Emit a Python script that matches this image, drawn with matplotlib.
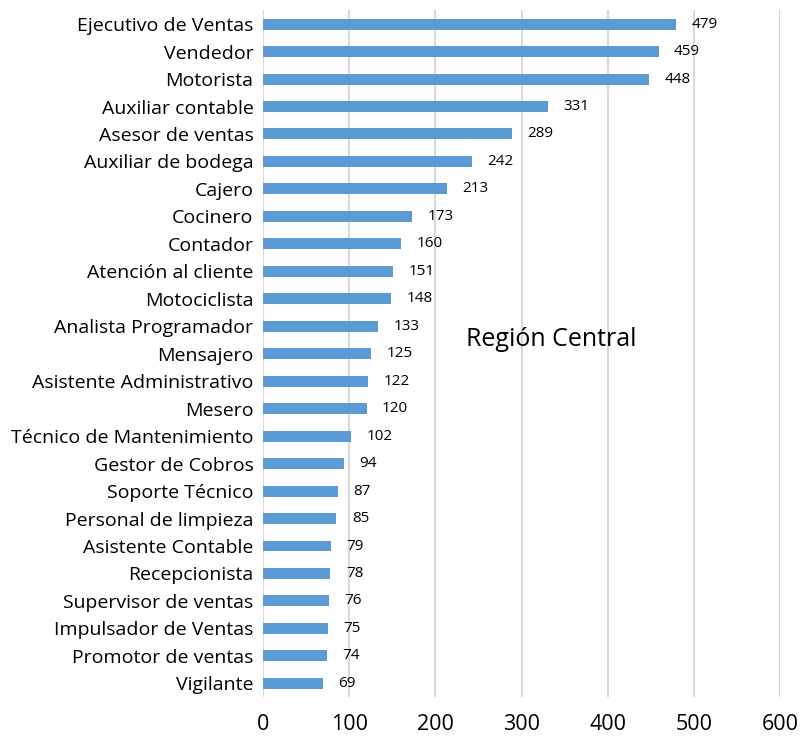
import matplotlib
matplotlib.use("Agg")
import matplotlib.pyplot as plt

categories = ["Ejecutivo de Ventas", "Vendedor", "Motorista", "Auxiliar contable",
              "Asesor de ventas", "Auxiliar de bodega", "Cajero", "Cocinero", "Contador",
              "Atención al cliente", "Motociclista", "Analista Programador", "Mensajero",
              "Asistente Administrativo", "Mesero", "Técnico de Mantenimiento",
              "Gestor de Cobros", "Soporte Técnico", "Personal de limpieza",
              "Asistente Contable", "Recepcionista", "Supervisor de ventas",
              "Impulsador de Ventas", "Promotor de ventas", "Vigilante"]
values = [479, 459, 448, 331, 289, 242, 213, 173, 160, 151, 148, 133, 125, 122, 120,
          102, 94, 87, 85, 79, 78, 76, 75, 74, 69]
xticks = [0, 100, 200, 300, 400, 500, 600]
title = "Región Central"

plt.rcParams['font.family'] = ['Open Sans', 'DejaVu Sans']
fig = plt.figure(figsize=(8, 7.4), dpi=100)
ax = fig.add_axes([0.329, 0.058, 0.646, 0.928])

y = list(range(len(categories)))
ax.barh(y, values, height=0.4, color="#5B9BD5", zorder=3)
for yi, v in zip(y, values):
    ax.text(v + 18, yi, str(v), va="center", ha="left", fontsize=11, color="black")

ax.set_ylim(len(categories) - 0.5, -0.5)
ax.set_yticks(y)
ax.set_yticklabels(categories, fontsize=14)
ax.set_xlim(0, 600)
ax.set_xticks(xticks)
ax.set_xticklabels([str(t) for t in xticks], fontsize=15.5)
ax.tick_params(axis="both", length=0)
ax.tick_params(axis="x", pad=12)
ax.tick_params(axis="y", pad=7)
for s in ax.spines.values():
    s.set_visible(False)
ax.xaxis.grid(True, color="#D9D9D9", linewidth=1.5, zorder=0)
ax.set_axisbelow(True)
ax.text(0.557, 0.52, title, transform=ax.transAxes, fontsize=18, ha="center", va="center")

fig.savefig("out.png", dpi=100)
